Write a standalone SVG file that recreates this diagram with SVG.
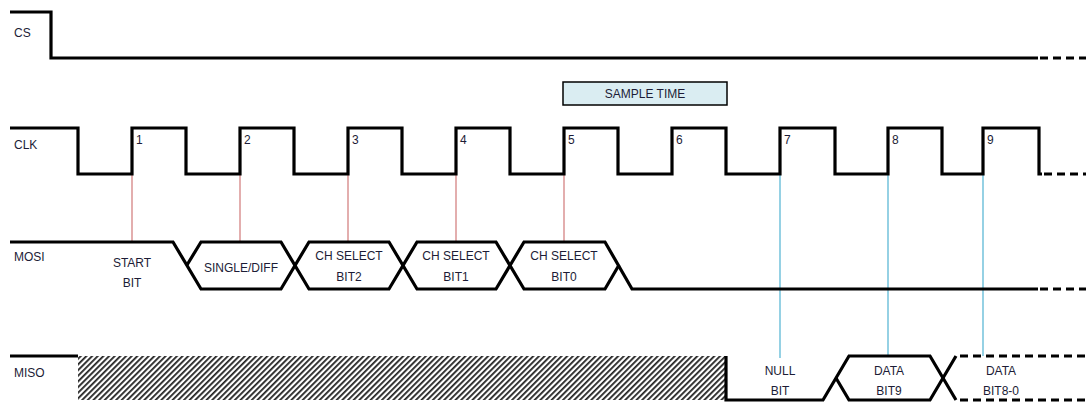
<svg xmlns="http://www.w3.org/2000/svg" width="1086" height="403" viewBox="0 0 1086 403">
<defs>
<style>
.sig{fill:none;stroke:#000;stroke-width:3.2;stroke-linejoin:miter;stroke-linecap:butt}
.dash{fill:none;stroke:#000;stroke-width:3.2;stroke-dasharray:8,5}
.red{stroke:#d07878;stroke-width:1.2}
.blue{stroke:#4fb3d2;stroke-width:1.2}
text{font-family:"Liberation Sans",Arial,sans-serif;font-size:12px;fill:#1c1c36}
.c{text-anchor:middle}
</style>
<pattern id="hatch" patternUnits="userSpaceOnUse" width="4" height="4" patternTransform="rotate(45)">
<rect width="4" height="4" fill="#fff"/>
<line x1="0.9" y1="0" x2="0.9" y2="4" stroke="#222" stroke-width="1.8"/>
</pattern>
</defs>
<rect width="1086" height="403" fill="#fff"/>

<g id="connectors">
<line class="red" x1="132" y1="174" x2="132" y2="242"/>
<line class="red" x1="240" y1="174" x2="240" y2="242"/>
<line class="red" x1="348" y1="174" x2="348" y2="242"/>
<line class="red" x1="456" y1="174" x2="456" y2="242"/>
<line class="red" x1="564" y1="174" x2="564" y2="242"/>
<line class="blue" x1="780" y1="174" x2="780" y2="358"/>
<line class="blue" x1="888" y1="174" x2="888" y2="356"/>
<line class="blue" x1="983" y1="174" x2="983" y2="356"/>
</g>

<g id="cs">
<text x="14" y="37">CS</text>
<polyline class="sig" points="10,12 51,12 51,58 1038,58"/>
<line class="dash" x1="1040" y1="58" x2="1086" y2="58"/>
</g>

<g id="sample-time">
<rect x="563" y="82" width="164" height="23" fill="#daedf2" stroke="#000" stroke-width="1.5"/>
<text class="c" x="645" y="98">SAMPLE TIME</text>
</g>

<g id="clk">
<text x="14" y="149">CLK</text>
<polyline class="sig" points="10,128 78,128 78,174 132,174 132,128 186,128 186,174 240,174 240,128 294,128 294,174 348,174 348,128 402,128 402,174 456,174 456,128 510,128 510,174 564,174 564,128 618,128 618,174 672,174 672,128 726,128 726,174 780,174 780,128 835,128 835,174 888,174 888,128 942,128 942,174 983,174 983,128 1039,128 1039,174 1042,174"/>
<line class="dash" x1="1044" y1="174" x2="1086" y2="174"/>
<text x="136" y="144">1</text>
<text x="244" y="144">2</text>
<text x="352" y="144">3</text>
<text x="460" y="144">4</text>
<text x="568" y="144">5</text>
<text x="676" y="144">6</text>
<text x="784" y="144">7</text>
<text x="892" y="144">8</text>
<text x="987" y="144">9</text>
</g>

<g id="mosi">
<text x="14" y="261">MOSI</text>
<polyline class="sig" points="10,242 173,242 201,289 281,289 309,242 389,242 417,289 496,289 524,242 605,242 632,289 1038,289"/>
<polyline class="sig" points="187,265 201,242 281,242 309,289 389,289 417,242 496,242 524,289 605,289 619,265"/>
<line class="dash" x1="1040" y1="289" x2="1086" y2="289"/>
<text class="c" x="132" y="267">START</text>
<text class="c" x="132" y="287">BIT</text>
<text class="c" x="241" y="272">SINGLE/DIFF</text>
<text class="c" x="349" y="260">CH SELECT</text>
<text class="c" x="349" y="281">BIT2</text>
<text class="c" x="456" y="260">CH SELECT</text>
<text class="c" x="456" y="281">BIT1</text>
<text class="c" x="564" y="260">CH SELECT</text>
<text class="c" x="564" y="281">BIT0</text>
</g>

<g id="miso">
<text x="14" y="377">MISO</text>
<rect x="78" y="356" width="648" height="44" fill="url(#hatch)"/>
<polyline class="sig" points="10,356 78,356"/>
<polyline class="sig" points="726,356 726,400 823,400 849,356 930,356 956,400"/>
<polyline class="sig" points="836,378 849,400 930,400 956,356"/>
<line class="dash" x1="960" y1="356" x2="1086" y2="356"/>
<line class="dash" x1="960" y1="400" x2="1086" y2="400"/>
<text class="c" x="780" y="375">NULL</text>
<text class="c" x="780" y="395">BIT</text>
<text class="c" x="889" y="375">DATA</text>
<text class="c" x="889" y="395">BIT9</text>
<text class="c" x="1001" y="375">DATA</text>
<text class="c" x="1001" y="395">BIT8-0</text>
</g>
</svg>
